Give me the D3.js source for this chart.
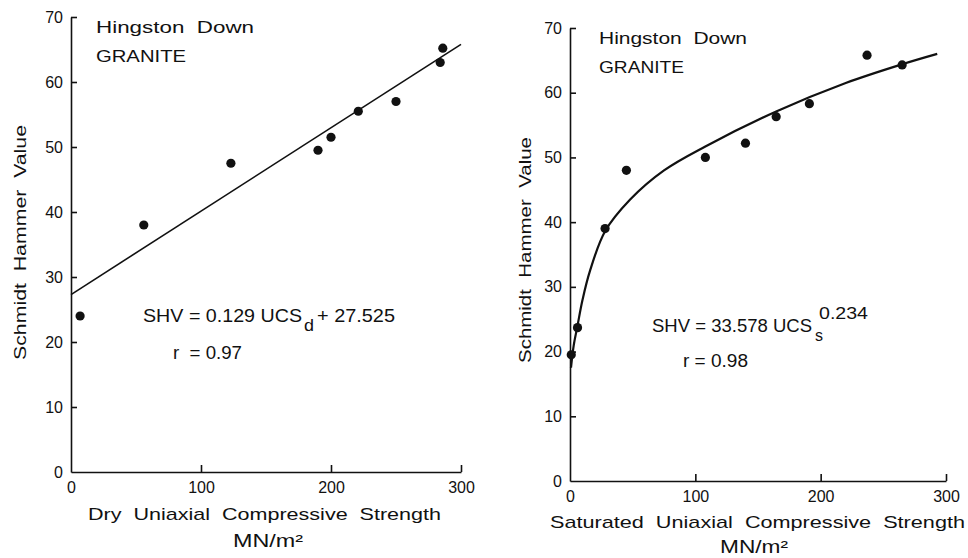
<!DOCTYPE html>
<html>
<head>
<meta charset="utf-8">
<script src="https://cdn.jsdelivr.net/npm/d3@7"></script>
<style>
  body { margin: 0; background: #fff; }
  text { font-family: 'Liberation Sans', Arial, sans-serif; fill: #111; white-space: pre; }
</style>
</head>
<body>
<svg id="chart" width="968" height="558"></svg>
<script>
// values
const xTicks = [0, 100, 200, 300]
const yTicks = [0, 10, 20, 30, 40, 50, 60, 70]

const dryUCS = [7, 56, 123, 190, 200, 221, 250, 284, 286]
const drySHV = [24, 38, 47.5, 49.5, 51.5, 55.5, 57, 63, 65.2]
const dryFitUCS = [0, 300]
const dryFitSHV = [27.3, 65.8]

const satUCS = [1, 6, 28, 45, 108, 140, 164.5, 191, 237, 265]
const satSHV = [19.5, 23.7, 39, 48, 50, 52.2, 56.3, 58.3, 65.8, 64.3]
const satFitUCS = [0.8, 3, 5.8, 10, 16, 28, 48, 75, 108, 164.5, 220, 265, 293]
const satFitSHV = [17.5, 21, 23.8, 28, 32.5, 38.6, 43.5, 48, 51.7, 57.1, 61.5, 64.4, 66]

const svg = d3.select('#chart')
svg.append('rect').attr('width', 968).attr('height', 558).attr('fill', '#fff')

// fixed-width text, squeezed like the condensed lettering of the scan
function label (g, str, x, y, w, size, rot) {
  const t = g.append('text')
    .attr('x', x).attr('y', y)
    .attr('font-size', size)
    .attr('textLength', w)
    .attr('lengthAdjust', 'spacingAndGlyphs')
    .text(str)
  if (rot) t.attr('transform', `rotate(-90,${x},${y})`)
  return t
}

function drawPanel (cfg) {
  const g = svg.append('g')
  const x = d3.scaleLinear().domain([0, 300]).range(cfg.xRange)
  const y = d3.scaleLinear().domain([0, 70]).range(cfg.yRange)

  const xAxis = g.append('g')
    .attr('transform', `translate(0,${y(0)})`)
    .call(d3.axisBottom(x).tickValues(xTicks).tickSize(-7).tickSizeOuter(0).tickPadding(10))
  const yAxis = g.append('g')
    .attr('transform', `translate(${x(0)},0)`)
    .call(d3.axisLeft(y).tickValues(yTicks).tickSize(-6).tickSizeOuter(0).tickPadding(8))

  for (const ax of [xAxis, yAxis]) {
    ax.selectAll('path, line').attr('stroke', '#111').attr('stroke-width', 1.6)
    ax.selectAll('text')
      .attr('font-size', 16)
      .attr('font-family', "'Liberation Sans', Arial, sans-serif")
      .attr('fill', '#111')
  }
  yAxis.selectAll('.tick').filter(d => d === 0).select('line').remove()
  xAxis.selectAll('.tick').filter(d => d === 0).select('line').remove()

  const line = d3.line()
    .x(d => x(d[0]))
    .y(d => y(d[1]))
    .curve(d3.curveCatmullRom.alpha(0.5))

  g.append('path')
    .datum(d3.zip(cfg.fitX, cfg.fitY))
    .attr('d', line)
    .attr('fill', 'none')
    .attr('stroke', '#111')
    .attr('stroke-width', cfg.fitWidth)

  g.selectAll('circle')
    .data(d3.zip(cfg.px, cfg.py))
    .join('circle')
    .attr('cx', d => x(d[0]))
    .attr('cy', d => y(d[1]))
    .attr('r', 4.6)
    .attr('fill', '#111')

  return g
}

const left = drawPanel({
  xRange: [71, 461], yRange: [472, 17],
  px: dryUCS, py: drySHV, fitX: dryFitUCS, fitY: dryFitSHV, fitWidth: 1.6
})
label(left, 'Hingston  Down', 96, 33, 158, 17)
label(left, 'GRANITE', 96, 62, 90, 17)
label(left, 'Schmidt  Hammer  Value', 26, 360, 235, 17, true)
label(left, 'SHV = 0.129 UCS', 143, 322, 159, 18)
label(left, 'd', 304, 331, 10, 17)
label(left, '+ 27.525', 317, 322, 78, 18)
label(left, 'r  = 0.97', 173, 359, 69, 18)
label(left, 'Dry  Uniaxial  Compressive  Strength', 88, 520, 353, 17)
label(left, 'MN/m²', 233, 547, 70, 18)

const right = drawPanel({
  xRange: [570, 946], yRange: [481, 28],
  px: satUCS, py: satSHV, fitX: satFitUCS, fitY: satFitSHV, fitWidth: 2.2
})
label(right, 'Hingston  Down', 599, 44, 148, 16)
label(right, 'GRANITE', 599, 73, 85, 16)
label(right, 'Schmidt  Hammer  Value', 531, 363, 226, 17, true)
label(right, 'SHV = 33.578 UCS', 652, 332, 160, 18)
label(right, 's', 815, 341, 8, 16)
label(right, '0.234', 819, 319, 49, 16)
label(right, 'r = 0.98', 683, 367, 65, 18)
label(right, 'Saturated  Uniaxial  Compressive  Strength', 550, 528, 415, 17)
label(right, 'MN/m²', 720, 553, 68, 18)
</script>
</body>
</html>
